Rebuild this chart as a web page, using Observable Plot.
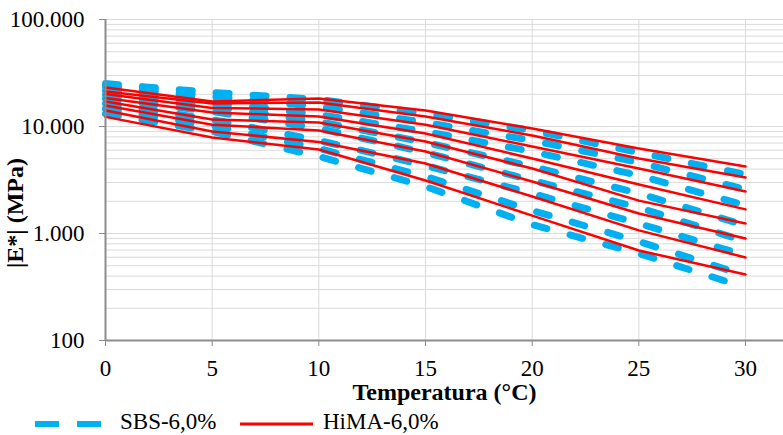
<!DOCTYPE html>
<html>
<head>
<meta charset="utf-8">
<script src="https://cdn.jsdelivr.net/npm/d3@7"></script>
<script src="https://cdn.jsdelivr.net/npm/@observablehq/plot@0.6"></script>
<style>
  body { margin: 0; background: #fff; }
  #chart { position: relative; width: 783px; height: 435px; overflow: hidden;
           font-family: "Liberation Serif", "Times New Roman", serif; color: #000; }
  #chart svg text { font-family: "Liberation Serif", "Times New Roman", serif !important; }
  #legend { position: absolute; left: 0; top: 411px; width: 783px; height: 21px;
            font-size: 23px; line-height: 21px; }
  #legend span, #legend svg { position: absolute; }
</style>
</head>
<body>
<div id="chart"></div>
<script>
// Test temperatures (°C)
const temperatures = [0, 5, 10, 15, 20, 25, 30];

// |E*| (MPa), one curve per loading frequency
const sbsCurves = [
  [25200, 20800, 17900, 13200, 9170, 5710, 3560],
  [23700, 19100, 15400, 10900, 7400, 4610, 2580],
  [21700, 17100, 12900, 8980, 5840, 3480, 1830],
  [19900, 15400, 11100, 7090, 4230, 2370, 1190],
  [18300, 13800, 9580, 5710, 3130, 1750, 842],
  [16400, 11600, 7400, 4320, 2370, 1240, 623],
  [14700, 10200, 6230, 3410, 1640, 842, 405],
  [13200, 8980, 5240, 2750, 1210, 650, 313]
];
const himaCurves = [
  [23100, 17100, 18300, 14100, 9580, 6230, 4230],
  [21200, 16400, 16800, 12400, 8240, 5020, 3340],
  [20100, 14900, 14400, 10400, 6500, 4050, 2470],
  [18500, 13500, 12400, 8600, 5020, 2870, 1680],
  [17100, 11600, 10900, 7240, 4050, 2030, 1240],
  [15700, 10400, 9170, 5840, 3060, 1540, 898],
  [14100, 8980, 7160, 4510, 2220, 1070, 597],
  [12300, 7890, 6100, 3130, 1470, 694, 414]
];

const seriesNames = ["SBS-6,0%", "HiMA-6,0%"];
const seriesColors = ["#00b0f0", "#ff0000"];
const xTicks = [0, 5, 10, 15, 20, 25, 30];
const yTicks = [100, 1000, 10000, 100000];
const xTitle = "Temperatura (°C)";
const yTitle = "|E*| (MPa)";

function toRows(curves) {
  const rows = [];
  curves.forEach((c, k) => c.forEach((e, i) => rows.push({t: temperatures[i], e, k})));
  return rows;
}
const sbsRows = toRows(sbsCurves);
const himaRows = toRows(himaCurves);

// Log grid: every 1..9 multiple within each decade
const yGrid = [];
for (let i = 0; i < yTicks.length - 1; i++)
  for (let m = 1; m < 10; m++) yGrid.push(m * yTicks[i]);
yGrid.push(yTicks[yTicks.length - 1]);
const xGrid = xTicks.filter(d => d > 0);

const fmt = d3.formatLocale({decimal: ",", thousands: ".", grouping: [3], currency: ["", ""]}).format(",");
const axisGray = "#8c8c8c";
const serif = "Liberation Serif";

const plot = Plot.plot({
  width: 783,
  height: 410,
  marginTop: 19,
  marginBottom: 70,
  marginLeft: 105,
  marginRight: 0,
  style: {fontFamily: serif, fontSize: "23px", color: "#000", background: "transparent", overflow: "visible"},
  x: {domain: [0, 31.78]},
  y: {type: "log", domain: [100, 100000]},
  marks: [
    Plot.ruleY(yGrid, {stroke: "#dadada", strokeWidth: 1}),
    Plot.ruleX(xGrid, {stroke: "#dadada", strokeWidth: 1}),
    Plot.line(sbsRows, {x: "t", y: "e", z: "k", stroke: seriesColors[0], strokeWidth: 7,
                        strokeDasharray: "13,24", strokeLinecap: "round", strokeLinejoin: "round"}),
    Plot.line(himaRows, {x: "t", y: "e", z: "k", stroke: seriesColors[1], strokeWidth: 2.5}),
    Plot.ruleX([0], {stroke: axisGray, strokeWidth: 2}),
    Plot.ruleY([100], {stroke: axisGray, strokeWidth: 2}),
    Plot.axisY(yTicks, {anchor: "left", tickSize: 6, tickPadding: 15, tickFormat: fmt, label: null,
                        stroke: axisGray, fill: "#000", fontSize: 23, fontFamily: serif}),
    Plot.axisX(xTicks, {anchor: "bottom", tickSize: 6, tickPadding: 13, label: null,
                        stroke: axisGray, fill: "#000", fontSize: 23, fontFamily: serif}),
    Plot.text([xTitle], {text: d => d, frameAnchor: "bottom", dy: 52, lineAnchor: "middle",
                         fontWeight: "bold", fontSize: 24, fontFamily: serif}),
    Plot.text([yTitle], {text: d => d, frameAnchor: "left", dx: -90, dy: 33, rotate: -90,
                         textAnchor: "middle", lineAnchor: "middle",
                         fontWeight: "bold", fontSize: 24, fontFamily: serif})
  ]
});

const chart = document.getElementById("chart");
chart.appendChild(plot);

// Legend below the plot
const legend = document.createElement("div");
legend.id = "legend";
const ns = "http://www.w3.org/2000/svg";
function swatch(left, width, color, sw, dash) {
  const s = document.createElementNS(ns, "svg");
  s.setAttribute("width", width);
  s.setAttribute("height", 8);
  s.style.left = left + "px";
  s.style.top = "9px";
  const l = document.createElementNS(ns, "line");
  l.setAttribute("x1", 0); l.setAttribute("x2", width);
  l.setAttribute("y1", 4); l.setAttribute("y2", 4);
  l.setAttribute("stroke", color);
  l.setAttribute("stroke-width", sw);
  if (dash) l.setAttribute("stroke-dasharray", dash);
  s.appendChild(l);
  return s;
}
function label(left, text) {
  const sp = document.createElement("span");
  sp.style.left = left + "px";
  sp.style.top = "0px";
  sp.textContent = text;
  return sp;
}
legend.appendChild(swatch(35, 66, seriesColors[0], 6, "24 18"));
legend.appendChild(label(120, seriesNames[0]));
legend.appendChild(swatch(240, 73, seriesColors[1], 3));
legend.appendChild(label(323, seriesNames[1]));
chart.appendChild(legend);
</script>
</body>
</html>
